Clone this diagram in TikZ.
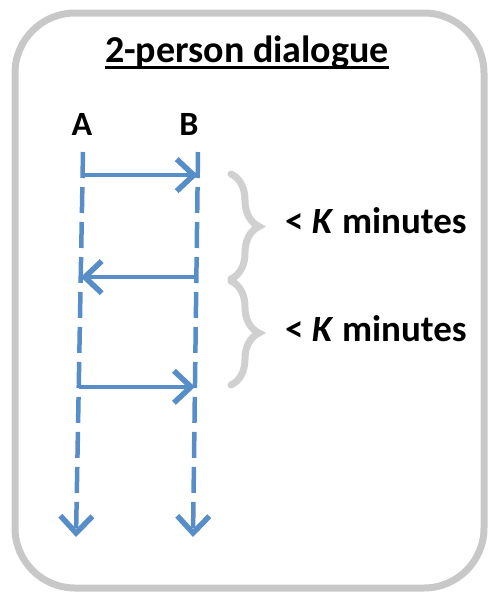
\documentclass[tikz,border=0pt]{standalone}
\usepackage{fontspec}
\setmainfont{Carlito}
\usetikzlibrary{arrows.meta,calc,decorations.pathreplacing}
\definecolor{lineblue}{RGB}{88,142,200}
\definecolor{framegray}{RGB}{200,200,200}
\definecolor{bracegray}{RGB}{208,208,208}
\tikzset{
  lifeline/.style={draw=lineblue,line width=4.5pt,dash pattern=on 26pt off 9pt,
    -{Straight Barb[length=17pt,width=32pt,line width=5.5pt]}},
  msg/.style={draw=lineblue,line width=4.5pt,
    -{Straight Barb[length=17pt,width=32pt,line width=5.5pt]}},
  tbrace/.style={draw=bracegray,line width=7pt,line cap=round,
    decorate,decoration={brace,amplitude=28pt,aspect=0.5}},
  lbl/.style={inner sep=0pt,anchor=base west,font=\bfseries\fontsize{37}{40}\selectfont},
}
\begin{document}
\begin{tikzpicture}[x=1pt,y=-1pt]
\useasboundingbox (0,0) rectangle (491,600);
\draw[framegray,line width=7pt,rounded corners=60pt] (15,13) rectangle (484,588);
\node[inner sep=0pt,anchor=base,font=\bfseries\fontsize{38}{40}\selectfont] (title) at (247,62) {2-person dialogue};
\draw[black,line width=2.8pt] ([yshift=-5.5pt]title.base west) -- ([yshift=-5.5pt]title.base east);
\node[inner sep=0pt,anchor=base,font=\bfseries\fontsize{34}{36}\selectfont] (A) at (82,135) {A};
\node[inner sep=0pt,anchor=base,font=\bfseries\fontsize{34}{36}\selectfont] (B) at (189,135) {B};
\coordinate (At) at (83,152);
\coordinate (Ab) at (76,537);
\coordinate (Bt) at (198,152);
\coordinate (Bb) at (193,537);
\draw[lifeline] (At) -- (Ab);
\draw[lifeline] (Bt) -- (Bb);
\coordinate (a1) at ($(At)!0.060!(Ab)$);
\coordinate (b1) at ($(Bt)!0.060!(Bb)$);
\coordinate (a2) at ($(At)!0.325!(Ab)$);
\coordinate (b2) at ($(Bt)!0.325!(Bb)$);
\coordinate (a3) at ($(At)!0.610!(Ab)$);
\coordinate (b3) at ($(Bt)!0.610!(Bb)$);
\draw[msg] (a1) -- (b1);
\draw[msg] (b2) -- (a2);
\draw[msg] (a3) -- (b3);
\coordinate (br1t) at (231,174);
\coordinate (br1b) at (231,279);
\coordinate (br2t) at (231,281);
\coordinate (br2b) at (231,385);
\draw[tbrace] (br1t) -- (br1b);
\draw[tbrace] (br2t) -- (br2b);
\node[lbl] (k1) at (285,233) {< \textit{K} minutes};
\node[lbl] (k2) at (285,341) {< \textit{K} minutes};
\end{tikzpicture}
\end{document}
